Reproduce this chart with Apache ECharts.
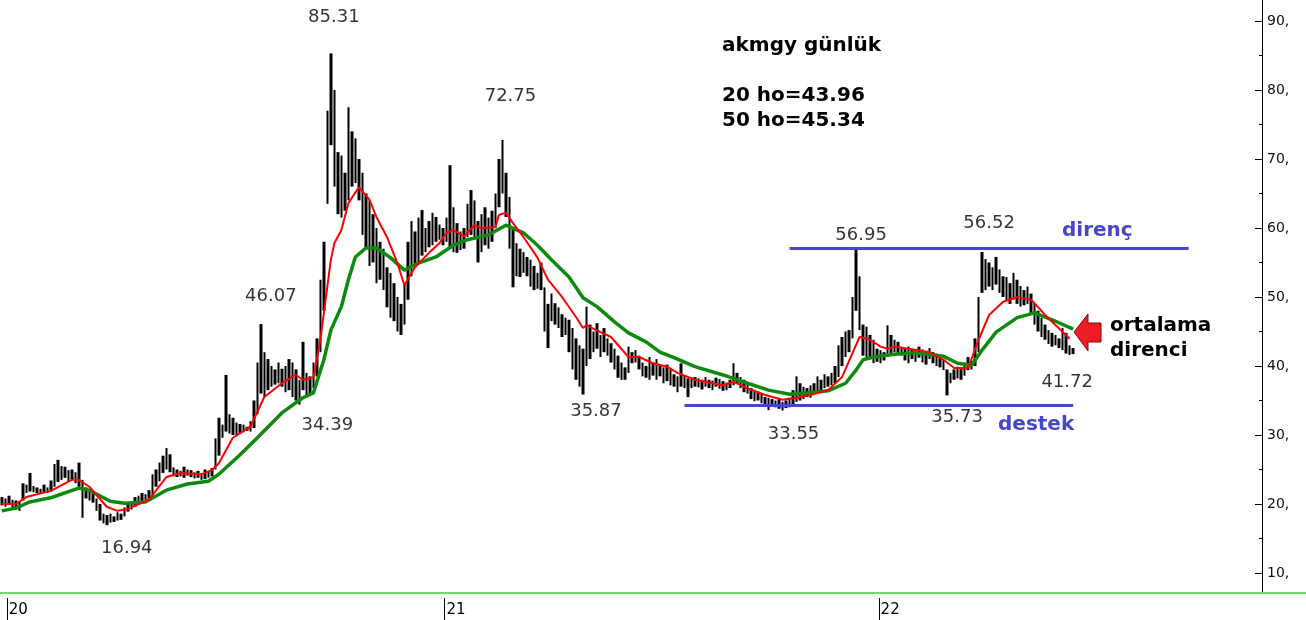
<!DOCTYPE html>
<html>
<head>
<meta charset="utf-8">
<script src="https://cdn.jsdelivr.net/npm/echarts@6/dist/echarts.min.js"></script>
<style>html,body{margin:0;padding:0;background:#fff}#c{width:1306px;height:620px}</style>
</head>
<body>
<div id="c"></div>
<script>
// ---- data ----
const categoryCount = 373;               // daily slots on the x axis (incl. empty right part)
const yearLabels = ['20', '21', '22'];
const yearStartIndex = [2, 127, 251];
const yTickLabels = [10, 20, 30, 40, 50, 60, 70, 80, 90];
const yMinorTicks = [15, 25, 35, 45, 55, 65, 75, 85];

const highs = [
21.0,20.8,21.2,20.6,20.5,20.4,23.0,22.8,24.5,22.6,
22.4,22.2,22.8,22.4,23.4,25.8,26.4,25.5,25.4,24.9,
25.0,24.6,26.0,23.5,22.4,22.0,21.6,20.8,20.0,18.6,
18.4,18.6,18.2,18.8,18.6,19.5,20.0,20.3,21.0,21.2,
21.6,21.4,22.0,24.3,25.0,26.0,27.0,28.1,27.2,25.3,
25.0,24.8,25.4,25.0,24.9,24.6,24.8,24.5,25.0,24.8,
25.2,29.5,32.5,31.5,38.7,33.0,32.5,31.8,31.6,31.5,
31.2,32.0,35.0,40.5,46.07,42.0,41.0,40.0,39.5,40.5,
39.6,40.0,41.0,40.5,39.5,38.0,43.5,39.0,38.5,40.5,
44.0,52.5,58.0,77.0,85.31,80.0,71.0,70.5,68.0,77.5,
74.0,73.0,70.0,68.0,65.0,64.0,62.0,60.0,58.0,57.0,
54.3,53.5,52.0,50.0,49.0,52.0,58.0,61.0,59.5,61.5,
62.6,60.0,61.0,62.2,61.6,60.5,60.0,61.5,69.1,63.0,
60.7,59.5,60.0,63.5,65.5,64.0,61.0,62.0,63.0,61.5,
62.5,65.0,70.0,72.75,68.0,64.5,60.0,57.8,57.0,56.5,
55.8,55.4,54.5,53.5,55.0,51.4,49.0,50.5,49.1,48.5,
47.5,47.0,46.7,45.5,44.0,43.0,42.5,48.6,46.0,45.0,
46.2,44.5,45.5,44.0,43.3,42.5,41.5,40.5,39.8,42.8,
42.0,42.3,41.5,40.5,40.0,41.3,40.5,41.0,40.2,39.8,
40.2,39.5,38.8,38.5,40.4,38.6,38.2,38.3,38.4,38.2,
38.0,38.4,38.0,37.9,38.3,38.1,37.8,37.6,38.0,40.4,
39.0,38.4,38.0,37.5,36.8,36.5,36.3,36.0,35.5,35.4,
35.2,35.0,35.3,34.8,35.0,35.4,36.5,38.5,37.5,37.0,
36.8,37.2,37.5,38.5,38.0,38.8,38.5,39.0,40.0,43.0,
44.2,45.0,45.2,50.0,56.95,53.0,46.0,45.7,44.5,43.8,
42.5,42.3,42.0,45.9,44.5,43.8,43.5,42.8,42.6,42.8,
42.5,42.3,42.8,42.4,42.1,42.6,42.0,41.8,41.5,40.9,
39.5,39.0,39.5,39.9,39.6,40.5,41.3,40.8,44.0,50.0,
56.52,55.5,55.0,54.3,55.8,54.0,53.0,52.9,52.0,53.5,
52.5,51.6,51.0,51.5,50.5,49.0,48.0,47.0,46.0,45.2,
44.8,44.5,44.0,45.5,44.8,43.0,42.6
];
const lows = [
19.8,19.6,20.0,19.4,19.2,19.0,20.5,21.6,21.8,21.7,
21.6,21.5,21.7,21.6,21.8,22.5,23.2,23.5,23.8,23.3,
23.6,23.0,22.5,18.0,20.8,20.5,20.2,19.0,17.6,17.2,
16.94,17.3,17.4,17.6,17.7,18.2,18.9,19.2,19.6,20.0,
20.4,20.6,20.8,21.0,22.5,23.3,24.5,25.0,24.6,24.0,
23.9,24.0,23.8,24.1,23.9,23.7,23.8,23.5,23.6,23.8,
24.0,25.0,27.0,29.6,30.5,30.2,30.0,29.8,30.2,30.4,
30.6,30.5,31.0,33.0,36.0,35.5,36.5,37.0,37.3,37.5,
37.0,36.2,36.5,35.5,35.0,34.39,36.5,35.8,36.0,36.8,
38.5,42.0,48.0,63.5,72.0,66.0,62.0,61.5,62.5,64.0,
66.0,66.5,64.0,59.0,57.0,54.5,55.0,52.0,52.5,51.0,
48.5,47.0,46.5,45.0,44.5,46.0,49.6,53.0,54.3,55.0,
56.0,56.5,57.2,57.5,58.0,58.3,57.5,58.0,57.0,56.5,
56.4,56.8,57.0,58.7,59.0,58.5,55.0,56.5,57.5,57.0,
58.0,60.0,63.0,65.0,61.6,57.0,51.4,53.0,52.9,53.5,
53.0,51.5,51.0,51.2,51.0,45.0,42.6,46.5,46.0,45.5,
44.2,44.5,42.0,39.5,38.0,37.0,35.87,40.0,41.0,42.0,
42.5,41.3,42.0,41.5,40.5,39.5,38.3,38.0,38.0,39.0,
40.4,40.5,39.5,38.5,38.3,38.0,38.6,38.0,38.5,37.5,
37.8,37.2,37.0,36.2,37.0,36.8,35.5,36.8,37.0,36.9,
36.6,37.0,36.8,36.5,37.0,36.7,36.4,36.5,36.8,37.2,
37.4,36.8,36.2,36.0,35.2,34.9,35.0,34.6,34.2,33.6,
34.2,34.0,33.8,33.55,33.9,34.0,34.2,34.8,35.0,35.2,
35.5,35.4,36.0,36.2,36.5,36.8,37.0,37.2,37.5,38.4,
40.0,41.3,42.0,44.0,48.0,45.2,41.5,41.3,41.0,40.4,
40.6,40.4,40.8,41.5,41.9,42.0,41.9,41.5,40.8,40.4,
41.0,40.6,41.2,40.5,40.2,41.0,40.4,40.0,39.8,39.4,
35.73,37.5,38.0,38.2,38.0,38.6,39.4,39.5,40.0,42.0,
50.6,51.0,51.5,51.0,51.8,50.6,50.0,49.5,49.0,49.6,
49.0,48.6,48.8,49.0,47.5,46.0,45.0,44.2,43.8,43.2,
42.8,43.0,42.6,42.3,41.8,41.6,41.72
];

// 20-day moving average readings: [day index, value]
const ma20 = [
[0,20.0],[4,20.0],[7,21.0],[14,21.9],[20,23.5],[22,23.5],[25,22.5],[30,19.6],[33,19.0],[36,19.3],
[42,20.6],[47,23.9],[51,24.5],[57,24.3],[60,24.9],[62,25.9],[66,29.6],[71,31.2],[75,35.5],[80,37.5],
[84,38.7],[86,38.0],[89,38.3],[91,43.8],[94,55.4],[95,57.8],[97,59.7],[99,63.6],[102,65.9],[105,64.1],
[107,61.6],[110,58.7],[113,54.9],[115,51.7],[118,54.3],[122,56.4],[125,57.8],[127,59.3],[129,59.7],[132,58.8],
[135,60.4],[137,60.0],[141,60.1],[142,61.9],[144,62.2],[146,60.7],[149,58.7],[153,55.7],[156,52.5],[160,50.0],
[164,47.1],[166,45.5],[167,45.9],[171,44.9],[174,44.2],[179,41.3],[182,41.3],[186,40.4],[190,39.9],[193,39.0],
[198,38.0],[206,37.2],[209,37.7],[213,36.8],[218,35.8],[223,35.1],[227,35.4],[231,35.8],[236,36.5],[240,38.4],
[243,41.9],[245,44.2],[248,43.8],[251,42.8],[253,42.5],[255,42.8],[259,42.5],[265,42.0],[269,40.9],[272,39.7],
[276,39.7],[279,43.8],[282,47.4],[286,49.3],[290,50.0],[294,49.6],[298,47.4],[301,45.9],[305,43.96]
];
// 50-day moving average readings: [day index, value]
const ma50 = [
[0,19.0],[4,19.4],[8,20.3],[14,20.9],[22,22.3],[25,22.0],[31,20.4],[35,20.1],[41,20.3],[47,22.0],
[53,22.9],[59,23.3],[62,24.3],[68,27.1],[73,29.6],[80,33.2],[86,35.4],[89,36.1],[92,40.9],[94,45.2],
[97,48.6],[99,52.5],[101,55.8],[104,57.1],[107,57.1],[111,55.7],[115,53.9],[119,54.9],[124,55.8],[129,57.5],
[133,58.3],[139,59.0],[144,60.4],[149,59.3],[153,57.5],[157,55.4],[162,52.9],[166,49.9],[170,48.6],[175,46.4],
[179,44.8],[184,43.5],[188,42.0],[192,41.2],[198,39.9],[206,38.7],[213,37.5],[219,36.5],[225,35.9],[230,36.1],
[236,36.4],[241,37.5],[244,39.4],[246,40.9],[249,41.3],[255,41.7],[261,41.9],[269,41.4],[273,40.4],[277,40.1],
[280,42.3],[284,44.9],[290,47.0],[295,47.7],[300,46.7],[306,45.34]
];

// annotated extremes: day index and price
const noteIndex = [94, 143, 74, 85, 30, 166, 223, 244, 280, 270, 306];
const noteValue = [85.31, 72.75, 46.07, 34.39, 16.94, 35.87, 33.55, 56.95, 56.52, 35.73, 41.72];
// label offsets (px) relative to the mark
const noteOffset = [[3,-36],[8,-44],[10,-28],[28,21],[20,23],[13,17],[11,24],[5,-14],[7,-29],[10,22],[-6,28]];

const resistanceLevel = 57.1, resistanceFrom = 225, resistanceTo = 339;
const supportLevel = 34.35, supportFrom = 195, supportTo = 306;

// ---- build ----
const categories = Array.from({length: categoryCount}, (_, i) => String(i));
const candles = highs.map((h, i) => [lows[i], h, lows[i], h]);
const yearMap = {};
yearStartIndex.forEach((idx, k) => { yearMap[idx] = yearLabels[k]; });

const chart = echarts.init(document.getElementById('c'), null, {renderer: 'canvas'});
const FONT = 'DejaVu Sans';

chart.setOption({
  animation: false,
  backgroundColor: '#ffffff',
  grid: {left: 0, right: 0, top: 0, bottom: 27, containLabel: false},
  xAxis: [{
    type: 'category', data: categories, boundaryGap: true,
    axisLine: {show: true, lineStyle: {color: '#6ddc6d', width: 2}},
    axisTick: {show: false}, axisLabel: {show: false}, splitLine: {show: false}
  }, {
    type: 'category', data: categories, boundaryGap: true, position: 'bottom', offset: 5,
    axisLine: {show: false},
    axisTick: {show: true, length: 22, interval: (i) => yearMap[i] !== undefined, lineStyle: {color: '#000', width: 1}},
    axisLabel: {show: true, interval: (i) => yearMap[i] !== undefined, formatter: (v, i) => yearMap[i] || '',
      align: 'left', margin: 5, color: '#000', fontSize: 15, fontFamily: FONT},
    splitLine: {show: false}
  }],
  yAxis: [{
    type: 'value', min: 7.1, max: 93.04, position: 'right', offset: -44,
    axisLine: {show: true, lineStyle: {color: '#000', width: 1}},
    axisTick: {show: true, inside: true, length: 7, customValues: yTickLabels, lineStyle: {color: '#000'}},
    axisLabel: {show: true, customValues: yTickLabels, formatter: v => v + ',', margin: 5,
      color: '#111', fontSize: 14, fontFamily: FONT},
    splitLine: {show: false}
  }, {
    type: 'value', min: 7.1, max: 93.04, position: 'right', offset: -44,
    axisLine: {show: false},
    axisTick: {show: true, inside: true, length: 3, customValues: yMinorTicks, lineStyle: {color: '#000'}},
    axisLabel: {show: false}, splitLine: {show: false}
  }],
  series: [{
    type: 'candlestick', name: 'akmgy', data: candles, barWidth: 3,
    itemStyle: {color: '#000', color0: '#000', borderColor: '#000', borderColor0: '#000', borderWidth: 0},
    silent: true,
    markLine: {
      silent: true, symbol: ['none', 'none'], label: {show: false},
      lineStyle: {color: '#4646c6', width: 3, type: 'solid'},
      data: [
        [{coord: [resistanceFrom, resistanceLevel]}, {coord: [resistanceTo, resistanceLevel]}],
        [{coord: [supportFrom, supportLevel]}, {coord: [supportTo, supportLevel]}]
      ]
    }
  }, {
    type: 'line', name: '50 ho', data: ma50, showSymbol: false, silent: true,
    lineStyle: {color: '#0d8a0d', width: 3.5}, z: 3
  }, {
    type: 'line', name: '20 ho', data: ma20, showSymbol: false, silent: true,
    lineStyle: {color: '#ff0000', width: 2}, z: 4
  }, {
    type: 'scatter', name: 'notes', symbolSize: 1, silent: true, z: 5,
    itemStyle: {color: 'rgba(0,0,0,0)'},
    data: noteIndex.map((idx, k) => ({
      value: [idx, noteValue[k]],
      label: {show: true, position: 'inside', offset: noteOffset[k],
        formatter: noteValue[k].toFixed(2), color: '#000', fontSize: 18, fontFamily: FONT}
    }))
  }],
  graphic: [
    {type: 'text', left: 722, top: 36, style: {text: 'akmgy günlük', font: 'bold 20px "DejaVu Sans"', fill: '#000'}},
    {type: 'text', left: 722, top: 86, style: {text: '20 ho=43.96', font: 'bold 20px "DejaVu Sans"', fill: '#000'}},
    {type: 'text', left: 722, top: 111, style: {text: '50 ho=45.34', font: 'bold 20px "DejaVu Sans"', fill: '#000'}},
    {type: 'text', left: 1062, top: 221, style: {text: 'direnç', font: 'bold 20px "DejaVu Sans"', fill: '#4646c6'}},
    {type: 'text', left: 998, top: 415, style: {text: 'destek', font: 'bold 20px "DejaVu Sans"', fill: '#4646c6'}},
    {type: 'text', left: 1110, top: 316, style: {text: 'ortalama', font: 'bold 20px "DejaVu Sans"', fill: '#000'}},
    {type: 'text', left: 1110, top: 341, style: {text: 'direnci', font: 'bold 20px "DejaVu Sans"', fill: '#000'}},
    {type: 'polygon', shape: {points: [[1074,332],[1088,314],[1088,323],[1101,323],[1101,342],[1088,342],[1088,351]]},
      style: {fill: '#ec1c24', stroke: '#7a1010', lineWidth: 1}}
  ]
});
</script>
</body>
</html>
